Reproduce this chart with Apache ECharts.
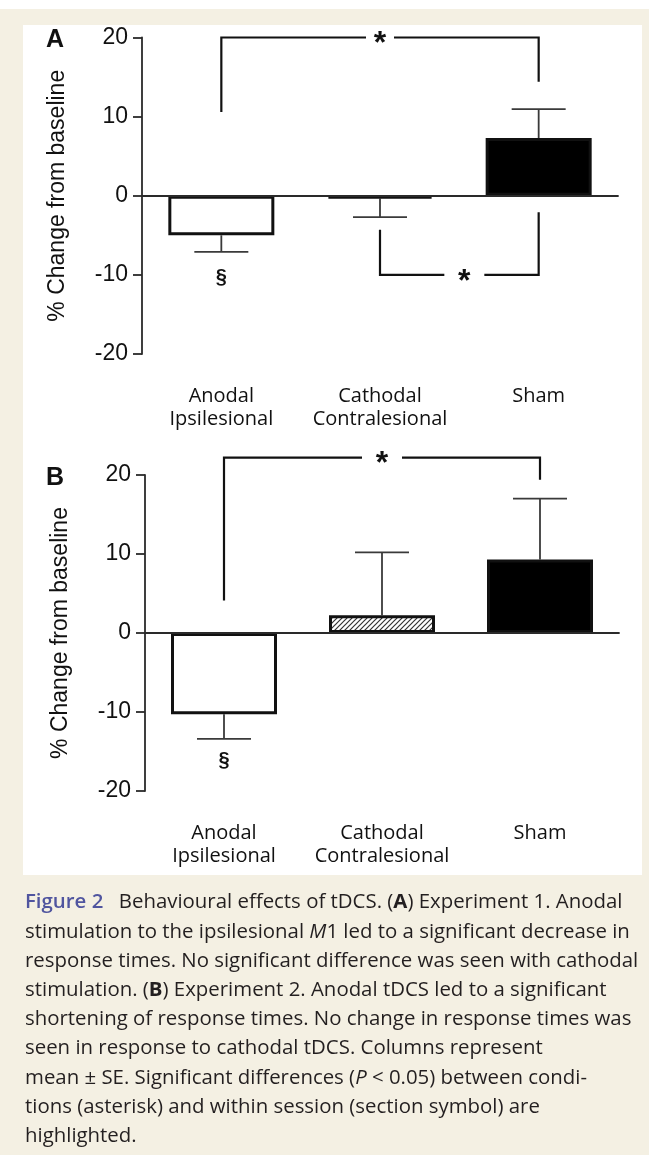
<!DOCTYPE html>
<html><head><meta charset="utf-8">
<script src="https://cdn.jsdelivr.net/npm/echarts@6/dist/echarts.min.js"></script>
<style>html,body{margin:0;padding:0;background:#fff;}#c{width:649px;height:1155px;}</style>
</head><body><div id="c"></div>
<script>
// ---------------- data ----------------
const categories = ['Anodal\nIpsilesional', 'Cathodal\nContralesional', 'Sham'];
const yTicks = [-20, -10, 0, 10, 20];
const expA_mean = [-5.0, -0.35, 7.3];
const expA_se   = [2.1, 2.35, 3.65];
const expB_mean = [-10.3, 2.25, 9.3];
const expB_se   = [3.1, 7.95, 7.7];
// significance brackets: [fromCategory, toCategory, level, leftLegEnd, rightLegEnd]
const bracketsA = [[0, 2, 20, 10.6, 14.4], [1, 2, -10, -4.3, -2.1]];
const bracketsB = [[0, 2, 22.2, 4.1, 19.4]];
// section symbol marks: [category, y]
const sectionA = [[0, -10.3]];
const sectionB = [[0, -16.2]];
const panelLabels = ['A', 'B'];
const axisTitle = '% Change from baseline';
const captionLines = [
  '{fig|Figure 2}\u2002 Behavioural effects of tDCS. ({b|A}) Experiment 1. Anodal',
  'stimulation to the ipsilesional {i|M}1 led to a significant decrease in',
  'response times. No significant difference was seen with cathodal',
  'stimulation. ({b|B}) Experiment 2. Anodal tDCS led to a significant',
  'shortening of response times. No change in response times was',
  'seen in response to cathodal tDCS. Columns represent',
  'mean \u00b1 SE. Significant differences ({i|P} < 0.05) between condi-',
  'tions (asterisk) and within session (section symbol) are',
  'highlighted.'
];

// ---------------- styles ----------------
function hatch() {
  const c = document.createElement('canvas');
  c.width = 5; c.height = 5;
  const g = c.getContext('2d');
  g.fillStyle = '#fff'; g.fillRect(0, 0, 5, 5);
  g.strokeStyle = '#333'; g.lineWidth = 1.2;
  g.beginPath();
  g.moveTo(-1, 6); g.lineTo(6, -1);
  g.moveTo(-1, 1); g.lineTo(1, -1);
  g.moveTo(4, 6); g.lineTo(6, 4);
  g.stroke();
  return { image: c, repeat: 'repeat' };
}
const fillsA = ['#ffffff', '#000000', '#000000'];
const fillsB = ['#ffffff', hatch(), '#000000'];
const AX = '#2a2a2a';
const TXT = '#111';

const grids = [
  { left: 142, right: 31, top: 37.5, height: 316.5 },
  { left: 145, right: 30, top: 475, height: 316 }
];

function xAxis(i) {
  return {
    type: 'category', gridIndex: i, data: categories,
    axisLine: { lineStyle: { color: AX, width: 1.8 } },
    axisTick: { alignWithLabel: true, length: 8, lineStyle: { color: AX, width: 1.8 } },
    axisLabel: { interval: 0, fontFamily: 'Open Sans', fontSize: 20, color: TXT, lineHeight: 23, margin: 31 }
  };
}
function yAxis(i) {
  return {
    type: 'value', gridIndex: i,
    min: yTicks[0], max: yTicks[yTicks.length - 1], interval: yTicks[1] - yTicks[0],
    axisLine: { show: true, lineStyle: { color: AX, width: 1.8 } },
    axisTick: { show: true, length: 9, lineStyle: { color: AX, width: 1.8 } },
    axisLabel: { fontFamily: 'Liberation Sans', fontSize: 23, color: TXT, margin: 14 },
    splitLine: { show: false },
    name: axisTitle, nameLocation: 'middle', nameGap: 73,
    nameTextStyle: { fontFamily: 'Liberation Sans', fontSize: 23, color: TXT }
  };
}

function panelSeries(i, means, ses, brackets, sections, fills) {
  const out = [];
  out.push({
    type: 'bar', xAxisIndex: i, yAxisIndex: i, barWidth: 106, z: 3,
    data: means.map((v, k) => ({ value: v, itemStyle: { color: fills[k], borderColor: '#111', borderWidth: 3 } })),
    markLine: {
      silent: true, symbol: 'none', label: { show: false },
      lineStyle: { color: AX, width: 1.8, type: 'solid' },
      data: [{ yAxis: 0 }]
    }
  });
  out.push({
    type: 'custom', xAxisIndex: i, yAxisIndex: i, z: 2, clip: false,
    data: means.map((v, k) => [k, v, ses[k]]),
    encode: { x: 0, y: 1 },
    renderItem: function (params, api) {
      const k = params.dataIndex;
      const m = means[k], s = ses[k];
      const dir = m >= 0 ? 1 : -1;
      const p0 = api.coord([k, m]);
      const p1 = api.coord([k, m + dir * s]);
      const st = { stroke: '#3a3a3a', lineWidth: 1.8 };
      return { type: 'group', children: [
        { type: 'line', shape: { x1: p0[0], y1: p0[1], x2: p1[0], y2: p1[1] }, style: st },
        { type: 'line', shape: { x1: p1[0] - 27, y1: p1[1], x2: p1[0] + 27, y2: p1[1] }, style: st }
      ]};
    }
  });
  out.push({
    type: 'custom', xAxisIndex: i, yAxisIndex: i, z: 4, clip: false,
    data: brackets.map(b => [b[0], b[2]]),
    encode: { x: 0, y: 1 },
    renderItem: function (params, api) {
      const b = brackets[params.dataIndex];
      const a0 = api.coord([b[0], b[3]]);
      const a1 = api.coord([b[0], b[2]]);
      const c1 = api.coord([b[1], b[2]]);
      const c0 = api.coord([b[1], b[4]]);
      const gap = (b[1] - b[0] === 2 && b[2] === 20) ? 14 : 20;
      const mid = (a1[0] + c1[0]) / 2 + (b[1] - b[0] === 1 ? 5 : 0);
      const st = { stroke: '#111', lineWidth: 2.2, fill: null };
      return { type: 'group', children: [
        { type: 'polyline', shape: { points: [a0, a1, [mid - gap, a1[1]]] }, style: st },
        { type: 'polyline', shape: { points: [[mid + gap, c1[1]], c1, c0] }, style: st },
        { type: 'text', x: mid, y: a1[1] + 7,
          style: { text: '*', font: 'bold 32px "Liberation Sans"', fill: '#111',
                   align: 'center', verticalAlign: 'middle', textAlign: 'center', textVerticalAlign: 'middle' } }
      ]};
    }
  });
  out.push({
    type: 'custom', xAxisIndex: i, yAxisIndex: i, z: 4, clip: false,
    data: sections.map(s => [s[0], s[1]]),
    encode: { x: 0, y: 1 },
    renderItem: function (params, api) {
      const s = sections[params.dataIndex];
      const p = api.coord([s[0], s[1]]);
      return { type: 'text', x: p[0], y: p[1],
        style: { text: '\u00a7', font: 'bold 20px "Liberation Sans"', fill: '#111',
                 align: 'center', verticalAlign: 'middle', textAlign: 'center', textVerticalAlign: 'middle' } };
    }
  });
  return out;
}

const capFont = { fontFamily: 'Open Sans', fontSize: 20.4, lineHeight: 29.2 };

const option = {
  animation: false,
  backgroundColor: '#ffffff',
  grid: grids,
  xAxis: [xAxis(0), xAxis(1)],
  yAxis: [yAxis(0), yAxis(1)],
  series: [].concat(
    panelSeries(0, expA_mean, expA_se, bracketsA, sectionA, fillsA),
    panelSeries(1, expB_mean, expB_se, bracketsB, sectionB, fillsB)
  ),
  graphic: [
    { type: 'rect', z: -10, shape: { x: 0, y: 9, width: 649, height: 1146 }, style: { fill: '#f4f0e3' }, silent: true },
    { type: 'rect', z: -9, shape: { x: 23, y: 25, width: 619, height: 850 }, style: { fill: '#ffffff' }, silent: true },
    { type: 'text', x: 46, y: 28, style: { text: panelLabels[0], font: 'bold 25px "Liberation Sans"', fill: '#111' } },
    { type: 'text', x: 46, y: 466, style: { text: panelLabels[1], font: 'bold 25px "Liberation Sans"', fill: '#111' } },
    { type: 'text', x: 25, y: 888,
      style: Object.assign({
        text: captionLines.join('\n'), fill: '#231f20',
        rich: {
          fig: Object.assign({ fontWeight: 600, fill: '#50559f' }, capFont),
          b: Object.assign({ fontWeight: 'bold', fill: '#231f20' }, capFont),
          i: Object.assign({ fontStyle: 'italic', fill: '#231f20' }, capFont)
        }
      }, capFont) }
  ]
};

const chart = echarts.init(document.getElementById('c'), null, { renderer: 'canvas' });
chart.setOption(option);
</script>
</body></html>
